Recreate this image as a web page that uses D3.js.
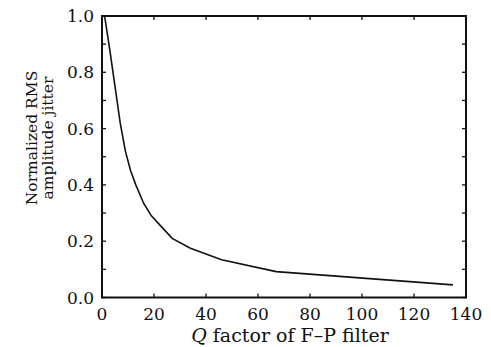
<!DOCTYPE html>
<html>
<head>
<meta charset="utf-8">
<script src="https://cdn.jsdelivr.net/npm/d3@7"></script>
<style>
  body { margin: 0; background: #fff; }
</style>
</head>
<body>
<svg id="chart" width="491" height="347"></svg>
<script>
// Q factor vs normalized RMS amplitude jitter
var qFactor = [1, 3, 5, 7, 9, 11, 13, 16, 19, 23, 27, 34, 46, 67, 135];
var jitter  = [1.0, 0.88, 0.75, 0.62, 0.52, 0.45, 0.40, 0.335, 0.29, 0.25, 0.21, 0.175, 0.134, 0.092, 0.045];
var xTicks = [0, 20, 40, 60, 80, 100, 120, 140];
var yTicks = [0.0, 0.2, 0.4, 0.6, 0.8, 1.0];
var yMinor = [0.1, 0.3, 0.5, 0.7, 0.9];

var FONT = "'DejaVu Serif', 'Liberation Serif', serif";

var svg = d3.select("#chart");
var m = {left: 102, right: 466, top: 16, bottom: 297.5};

var x = d3.scaleLinear().domain([0, 140]).range([m.left, m.right]);
var y = d3.scaleLinear().domain([0, 1]).range([m.bottom, m.top]);

var tl = 4;
var g = svg.append("g");

// ticks, all pointing inward
function tickLines(vals, fn) {
  g.selectAll(null).data(vals).enter().append("line")
    .each(fn)
    .attr("stroke", "#111").attr("stroke-width", 1.3);
}
tickLines(xTicks, function(d){ d3.select(this).attr("x1", x(d)).attr("x2", x(d)).attr("y1", m.bottom).attr("y2", m.bottom - tl); });
tickLines(xTicks, function(d){ d3.select(this).attr("x1", x(d)).attr("x2", x(d)).attr("y1", m.top).attr("y2", m.top + tl); });
tickLines(yTicks.concat(yMinor), function(d){ d3.select(this).attr("y1", y(d)).attr("y2", y(d)).attr("x1", m.left).attr("x2", m.left + tl); });
tickLines(yTicks.concat(yMinor), function(d){ d3.select(this).attr("y1", y(d)).attr("y2", y(d)).attr("x1", m.right).attr("x2", m.right - tl); });

// frame
g.append("rect")
  .attr("x", m.left).attr("y", m.top)
  .attr("width", m.right - m.left).attr("height", m.bottom - m.top)
  .attr("fill", "none").attr("stroke", "#111").attr("stroke-width", 2);

// tick labels
g.selectAll(".xl").data(xTicks).enter().append("text")
  .attr("x", function(d){ return x(d); })
  .attr("y", 320)
  .attr("text-anchor", "middle")
  .style("font-family", FONT)
  .style("font-size", "17px")
  .attr("fill", "#111")
  .text(function(d){ return d; });

g.selectAll(".yl").data(yTicks).enter().append("text")
  .attr("x", m.left - 8)
  .attr("y", function(d){ return y(d) + 6; })
  .attr("text-anchor", "end")
  .style("font-family", FONT)
  .style("font-size", "17px")
  .attr("fill", "#111")
  .text(function(d){ return d.toFixed(1); });

// axis titles
var xt = g.append("text")
  .attr("x", 290).attr("y", 342)
  .attr("text-anchor", "middle")
  .style("font-family", FONT)
  .style("font-size", "19px")
  .attr("fill", "#111");
xt.append("tspan").style("font-style", "italic").text("Q");
xt.append("tspan").text(" factor of F\u2013P filter");

var yt = g.append("text")
  .attr("transform", "translate(36.5,138) rotate(-90)")
  .attr("text-anchor", "middle")
  .style("font-family", FONT)
  .style("font-size", "15.5px")
  .attr("fill", "#111");
yt.append("tspan").attr("x", 0).attr("dy", 0).text("Normalized RMS");
yt.append("tspan").attr("x", 0).attr("dy", 16).text("amplitude jitter");

// curve
var line = d3.line()
  .x(function(d, i){ return x(qFactor[i]); })
  .y(function(d){ return y(d); });

g.append("path")
  .datum(jitter)
  .attr("d", line)
  .attr("fill", "none")
  .attr("stroke", "#111")
  .attr("stroke-width", 1.6);
</script>
</body>
</html>
